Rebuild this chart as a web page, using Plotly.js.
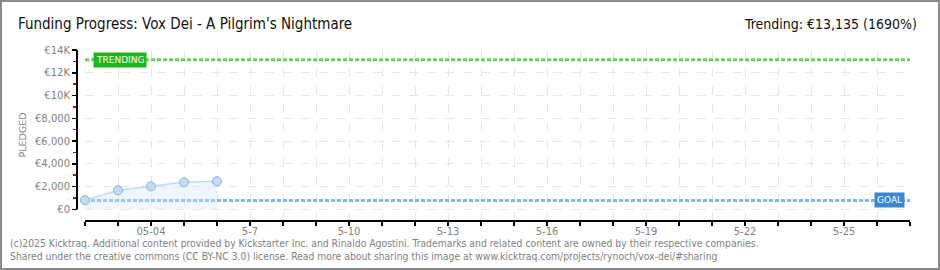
<!DOCTYPE html>
<html><head><meta charset="utf-8">
<script src="https://cdn.plot.ly/plotly-3.0.1.min.js"></script>
<style>
body{margin:0;padding:0;background:#fff;}
#wrap{position:relative;width:940px;height:270px;}
#frame{position:absolute;left:0;top:0;width:936px;height:266px;border:2px solid #8a8a8a;pointer-events:none;}
</style></head>
<body><div id="wrap"><div id="chart" style="width:940px;height:270px;"></div><div id="frame"></div></div>
<script>
const dates = ['2025-05-02','2025-05-03','2025-05-04','2025-05-05','2025-05-06'];
const pledged = [800, 1670, 2020, 2370, 2460];
const endDate = '2025-05-27';
const goal = 777;
const trending = 13135;
const xTickVals = ['2025-05-04','2025-05-07','2025-05-10','2025-05-13','2025-05-16','2025-05-19','2025-05-22','2025-05-25'];
const xTickText = ['05-04','5-7','5-10','5-13','5-16','5-19','5-22','5-25'];
const yTickVals = [0,2000,4000,6000,8000,10000,12000,14000];
const yTickText = ['€0','€2,000','€4,000','€6,000','€8,000','€10K','€12K','€14K'];
const titleText = "Funding Progress: Vox Dei - A Pilgrim's Nightmare";
const trendText = 'Trending: €13,135 (1690%)';
const footer1 = '(c)2025 Kicktraq. Additional content provided by Kickstarter Inc. and Rinaldo Agostini. Trademarks and related content are owned by their respective companies.';
const footer2 = 'Shared under the creative commons (CC BY-NC 3.0) license. Read more about sharing this image at www.kicktraq.com/projects/rynoch/vox-dei/#sharing';

const W = 833, H = 170;
const narrow = '"Liberation Sans Narrow","DejaVu Sans Condensed",sans-serif';
const tickFont = {family:'"DejaVu Sans",sans-serif', size:10, color:'#808080'};
const footFont = {family:'"DejaVu Sans Condensed","DejaVu Sans",sans-serif', size:10.3, color:'#808080'};

const traces = [
  {x:[dates[0], endDate], y:[trending, trending], mode:'lines', line:{color:'#66d45a', width:3, dash:'4px,2px'}, hoverinfo:'skip', cliponaxis:false},
  {x:[dates[0], endDate], y:[goal, goal], mode:'lines', line:{color:'#82b6ec', width:3, dash:'4px,2px'}, hoverinfo:'skip', cliponaxis:false},
  {x:dates, y:pledged, mode:'lines+markers', fill:'tozeroy', fillcolor:'rgba(205,226,250,0.35)', cliponaxis:false,
   line:{color:'#c0d9f4', width:1.5}, marker:{size:9, color:'#c4dcf6', line:{color:'#8eaed4', width:1}}}
];

const layout = {
  width:940, height:270,
  margin:{l:77, r:30, t:50, b:50},
  paper_bgcolor:'#fff', plot_bgcolor:'#fff',
  showlegend:false,
  title:{text:titleText, x:18/940, xanchor:'left', xref:'container', y:1-24/270, yanchor:'middle', yref:'container', font:{family:narrow, size:15, color:'#111'}},
  xaxis:{type:'date', range:['2025-05-02', endDate], domain:[8/W, 1],
    tickvals:xTickVals, ticktext:xTickText, ticks:'outside', ticklen:4, tickwidth:1.5, tickcolor:'#000',
    ticklabelstandoff:-3,
    showline:true, linecolor:'#000', linewidth:2,
    showgrid:true, gridcolor:'#e6e6e6', griddash:'dash', gridwidth:1,
    minor:{dtick:86400000, tick0:'2025-05-02', ticks:'outside', ticklen:4, tickwidth:1.5, tickcolor:'#000', showgrid:true, gridcolor:'#e6e6e6', griddash:'dash'},
    tickfont:tickFont, zeroline:false, fixedrange:true},
  yaxis:{range:[-940, 14000], anchor:'free', position:0,
    tickvals:yTickVals, ticktext:yTickText, ticks:'outside', ticklen:5, tickwidth:1.5, tickcolor:'#000',
    showline:false, showgrid:true, gridcolor:'#e6e6e6', griddash:'dash', zeroline:false,
    minor:{dtick:1000, tick0:0, ticks:'outside', ticklen:4, tickwidth:1.5, tickcolor:'#e00000', showgrid:false},
    tickfont:tickFont,
    title:{text:'PLEDGED', font:{family:'"DejaVu Sans",sans-serif', size:9.5, color:'#808080'}, standoff:5}},
  shapes:[
    {type:'line', xref:'paper', yref:'y', x0:0, x1:0, y0:0, y1:14000, line:{color:'#000', width:2}}
  ],
  annotations:[
    {text:trendText, xref:'paper', yref:'paper', x:(919-77)/W, xanchor:'right', y:1+26/H, yanchor:'middle', showarrow:false, font:{family:narrow, size:14, color:'#111'}},
    {text:'TRENDING', xref:'paper', yref:'y', x:(93-77)/W, xanchor:'left', y:trending, yanchor:'middle', showarrow:false,
     bgcolor:'#1cb51c', borderpad:2, font:{family:'"DejaVu Sans",sans-serif', size:9, color:'#fff'}},
    {text:'GOAL', xref:'paper', yref:'y', x:(905-77)/W, xanchor:'right', y:goal, yanchor:'middle', showarrow:false,
     bgcolor:'#3a87d8', borderpad:2, font:{family:'"DejaVu Sans",sans-serif', size:9, color:'#fff'}},
    {text:footer1, xref:'paper', yref:'paper', x:(8-77)/W, xanchor:'left', y:-(243-220)/H, yanchor:'middle', showarrow:false, font:footFont},
    {text:footer2, xref:'paper', yref:'paper', x:(8-77)/W, xanchor:'left', y:-(256-220)/H, yanchor:'middle', showarrow:false, font:footFont}
  ]
};
Plotly.newPlot('chart', traces, layout, {displayModeBar:false, staticPlot:true});
</script></body></html>
